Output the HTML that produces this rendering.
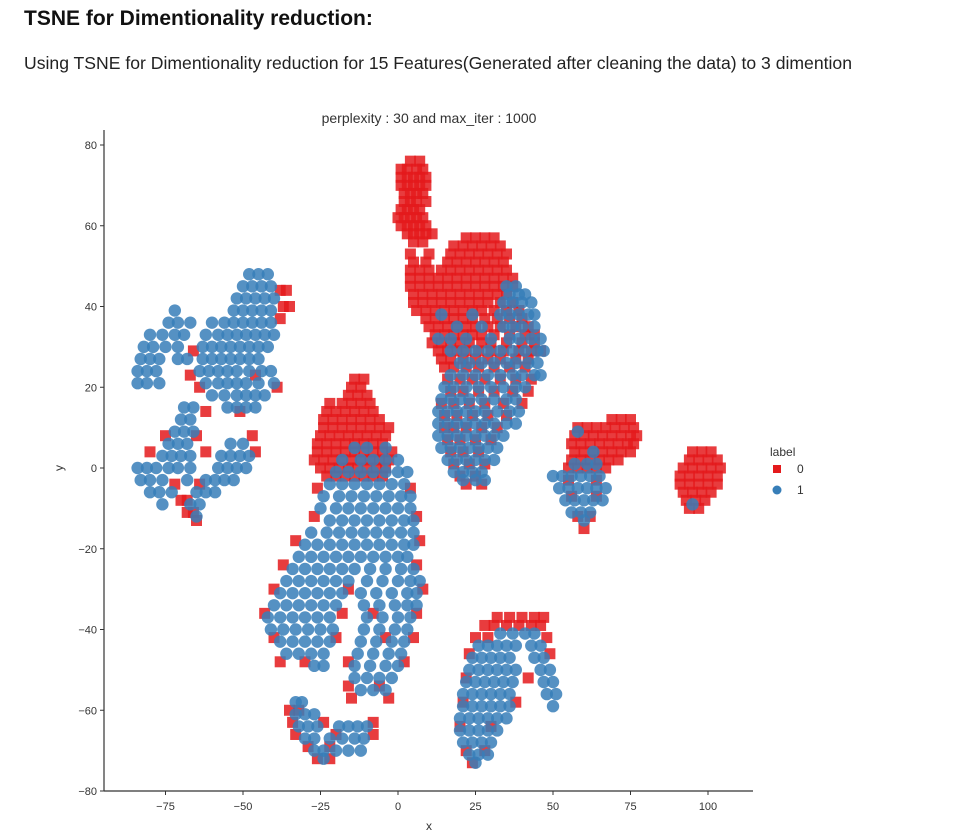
<!DOCTYPE html>
<html><head><meta charset="utf-8"><style>
body{margin:0;background:#fff;width:971px;height:834px;overflow:hidden;font-family:"Liberation Sans",sans-serif}
#h{position:absolute;left:24px;top:7px;font-size:21px;font-weight:bold;color:#111}
#s{position:absolute;left:24px;top:53px;font-size:17.6px;color:#222;white-space:nowrap}
svg{position:absolute;left:0;top:0}
</style></head><body>
<div id="h">TSNE for Dimentionality reduction:</div>
<div id="s">Using TSNE for Dimentionality reduction for 15 Features(Generated after cleaning the data) to 3 dimention</div>
<svg id="c" width="971" height="834"></svg>
<script>
const xTicks=[-75,-50,-25,0,25,50,75,100];
const yTicks=[80,60,40,20,0,-20,-40,-60,-80];
// rows: [y, x1, x2, ...]
const red0=[
[76,4,7],[74,1,3,6,8],[72,1,3,5,7,9],[70,1,3,5,7,9],[68,2,4,6,8],[66,2,4,6,9],[64,1,3,5,7],[62,0,2,4,6,8],[60,1,3,5,7,9],[58,3,5,7,9,11],[56,5,8],[53,4,10],
[57,22,25,28,31],[55,18,21,24,27,30,33],[53,17,20,23,26,29,32,35],[51,5,9,16,19,22,25,28,31,34],[49,4,7,10,14,17,20,23,26,29,32,35],[47,4,7,10,13,16,19,22,25,28,31,34,37],[45,4,7,10,13,16,19,22,25,28,31,34,37],[43,5,8,11,14,17,20,23,26,29,32,35],[41,5,8,11,14,17,20,23,26,29,33,37],[39,6,9,12,15,18,21,24,27,31,35,39],[37,9,12,15,18,21,24,28,32,36,40],[35,10,13,16,19,22,25,29,33,38,42],[33,12,15,18,21,24,27,31,36,41,44],[31,11,14,17,20,23,27,30,35,40,44],[29,13,16,19,22,26,30,34,39,43,46],[27,14,17,21,25,29,33,38,42],[25,15,18,22,26,31,36,41],[22,16,20,24,28,33,38,43],[19,17,21,26,31,37,42],[16,14,18,23,28,34,40],[13,15,19,24,29,35],[10,15,18,22,27,32],[7,16,20,25,30],[4,17,21,26],[1,18,23,28],[-2,20,25],[-4,22,27],
[22,-14,-11],[20,-15,-12],[18,-16,-13,-10],[16,-22,-18,-15,-12,-9],[14,-23,-20,-17,-14,-11,-8],[12,-24,-21,-18,-15,-12,-9,-6],[10,-24,-21,-18,-15,-12,-9,-6,-3],[8,-25,-22,-19,-16,-13,-10,-7,-4],[6,-26,-23,-20,-17,-14,-11,-8,-5],[4,-26,-23,-20,-17,-14,-11,-8,-5,-2],[2,-27,-24,-21,-18,-15,-12,-9,-6,-3],[0,-25,-22,-19,-16,-13,-10,-7,-4],[-2,-23,-20,-17,-14,-11,-8,-5],
[-5,-26,4],[-12,-27,6],[-18,-33,7],[-24,-37,6],[-30,-40,-16,8],[-36,-43,-18,-8,6],[-42,-40,-20,-4,5],[-48,-38,-30,-16,2],[-54,-16,-6],[-57,-15,-3],[-60,-35,-32],[-63,-34,-24,-8],[-66,-33,-20,-8],[-69,-29,-22],[-72,-26,-22],
[44,-38,-36],[40,-37,-35],[37,-38],[29,-66],[23,-46,-67],[20,-64,-39],[14,-62,-51],[8,-75,-65,-47],[4,-80,-62,-46],[-4,-72,-64],[-8,-70,-68],[-11,-68,-66],[-13,-65],
[12,69,72,75],[10,58,61,64,67,70,73,76],[8,57,60,63,66,69,72,75,77],[6,56,59,62,65,68,71,74,76],[4,57,60,63,66,69,72,75],[2,56,59,62,65,68,71],[0,55,58,61,64,67],[-3,55,64],[-7,56,64],[-12,58,62],[-15,60],
[4,95,98,101],[2,94,97,100,103],[0,92,95,98,101,104],[-2,91,94,97,100,103],[-4,91,94,97,100,103],[-6,92,95,98,101],[-8,93,96,99],[-10,94,97],
[-37,32,36,40,44,47],[-39,28,31,35,39,43,46],[-42,25,29,48],[-46,23,49],[-52,22,42],[-58,21,38],[-64,20,30],[-70,22,28],[-73,24]
];
const blue1=[
[45,38,35],[43,36,39,41],[41,34,37,40,43],[38,14,24,33,36,39,42,44],[35,19,27,34,37,40,44],[32,13,17,22,30,36,39,43,46],[29,17,21,25,29,33,37,41,45,47],[26,20,23,27,31,35,38,42,45],[23,17,21,25,29,33,37,40,44,46],[20,15,18,22,26,30,34,38,41],[17,14,17,20,23,27,31,35,38],[14,13,16,19,22,25,28,32,36,39],[11,13,16,19,22,25,28,31,35,38],[8,13,16,19,22,25,28,31,34],[5,14,17,20,23,26,29,32],[2,16,19,22,25,28,31],[-1,18,21,24,27],[-3,21,25,28],
[5,-14,-10,-4],[2,-18,-12,-8,-4,0],[-1,-20,-16,-12,-8,-4,0,3],[-4,-22,-18,-14,-10,-6,-2,2],[-7,-24,-19,-15,-11,-7,-3,1,4],[-10,-25,-20,-16,-12,-8,-4,0,4],[-13,-22,-18,-14,-10,-6,-2,2,5],[-16,-28,-23,-19,-15,-11,-7,-3,1,5],[-19,-30,-26,-22,-18,-14,-10,-6,-2,2,5],[-22,-32,-28,-24,-20,-16,-12,-8,-4,0,3],[-25,-34,-30,-26,-22,-18,-14,-9,-4,1,5],[-28,-36,-32,-28,-24,-20,-16,-10,-5,0,4,7],[-31,-38,-34,-30,-26,-22,-18,-12,-7,-2,3,6],[-34,-40,-36,-32,-28,-24,-20,-11,-6,-1,3,6],[-37,-42,-38,-34,-30,-26,-22,-10,-5,0,4],[-40,-41,-37,-33,-29,-25,-21,-11,-6,-1,3],[-43,-38,-34,-30,-26,-22,-12,-7,-2,2],[-46,-36,-32,-28,-24,-13,-8,-3,1],[-49,-27,-24,-14,-9,-4,0],[-52,-14,-10,-6,-2],[-55,-12,-8,-4],[-58,-33,-31],[-61,-33,-30,-27],[-64,-32,-29,-26,-19,-16,-13,-10],[-67,-30,-27,-22,-18,-14,-11],[-70,-27,-24,-20,-16,-12],[-72,-24],
[48,-48,-45,-42],[45,-50,-47,-44,-41],[42,-52,-49,-46,-43,-40],[39,-53,-50,-47,-44,-41,-72],[36,-60,-56,-53,-50,-47,-44,-41,-74,-71,-67],[33,-62,-58,-55,-52,-49,-46,-43,-40,-80,-76,-72,-69],[30,-63,-60,-57,-54,-51,-48,-45,-42,-82,-79,-75,-71],[27,-63,-60,-57,-54,-51,-48,-45,-83,-80,-77,-71,-68],[24,-64,-61,-58,-55,-52,-48,-44,-41,-84,-81,-78],[21,-62,-58,-55,-52,-49,-45,-40,-84,-81,-77],[18,-60,-56,-52,-49,-46,-43],[15,-69,-66,-55,-52,-49,-46],[12,-70,-67],[9,-72,-69,-66],[6,-74,-71,-68,-54,-50],[3,-76,-73,-70,-67,-57,-54,-51,-48],[0,-84,-81,-78,-74,-71,-67,-58,-55,-52,-49],[-3,-83,-80,-76,-68,-62,-59,-56,-53],[-6,-80,-77,-73,-65,-62,-59],[-9,-76,-67,-64],[-12,-65],
[9,58],[4,63],[1,57,61,64],[-2,50,53,56,59,62,65],[-5,52,55,58,61,64,67],[-8,54,57,60,63,66],[-11,56,59,62],[-13,60],[-9,95],
[-41,33,37,41,44],[-44,26,29,32,35,38,43,46],[-47,24,27,30,33,36,44,47],[-50,23,26,29,32,35,38,46,49],[-53,22,25,28,31,34,37,47,50],[-56,21,24,27,30,33,36,48,51],[-59,21,24,27,30,33,36,50],[-62,20,23,26,29,32,35],[-65,20,23,26,29,32],[-68,21,24,27,30],[-71,23,26,29],[-73,25]
];
const NS='http://www.w3.org/2000/svg';
const svg=document.getElementById('c');
const X0=104,X1=753,Y0=130,Y1=791;
const sx=v=>398+v*3.1, sy=v=>468-v*4.0375;
function mk(t,a){const e=document.createElementNS(NS,t);for(const k in a)e.setAttribute(k,a[k]);svg.appendChild(e);return e;}
let t=mk('text',{x:429,y:123,'font-size':14,'text-anchor':'middle',fill:'#333'});t.textContent='perplexity : 30 and max_iter : 1000';


const gR=mk('g',{fill:'#e41a1c','fill-opacity':0.85});


red0.forEach(r=>{for(let i=1;i<r.length;i++){const e=document.createElementNS(NS,'rect');e.setAttribute('x',sx(r[i])-5.5);e.setAttribute('y',sy(r[0])-5.5);e.setAttribute('width',11);e.setAttribute('height',11);


gR.appendChild(e);}});
const gB=mk('g',{fill:'#377eb8','fill-opacity':0.85});


blue1.forEach(r=>{for(let i=1;i<r.length;i++){const e=document.createElementNS(NS,'circle');e.setAttribute('cx',sx(r[i]));e.setAttribute('cy',sy(r[0]));e.setAttribute('r',6.2);


gB.appendChild(e);}});
let a=mk('line',{x1:X0,y1:Y0,x2:X0,y2:Y1,stroke:'#333','stroke-width':1.2});


a=mk('line',{x1:X0,y1:Y1,x2:X1,y2:Y1,stroke:'#333','stroke-width':1.2});


xTicks.forEach(v=>{mk('line',{x1:sx(v),x2:sx(v),y1:Y1,y2:Y1+4,stroke:'#333'});const l=mk('text',{x:sx(v),y:Y1+19,'font-size':11,'text-anchor':'middle',fill:'#333'});l.textContent=v<0?'\u2212'+(-v):v;

});
yTicks.forEach(v=>{mk('line',{x1:X0-4,x2:X0,y1:sy(v),y2:sy(v),stroke:'#333'});const l=mk('text',{x:X0-7,y:sy(v)+4,'font-size':11,'text-anchor':'end',fill:'#333'});l.textContent=v<0?'\u2212'+(-v):v;

});
t=mk('text',{x:429,y:830,'font-size':12,'text-anchor':'middle',fill:'#333'});t.textContent='x';


t=mk('text',{x:63,y:468,'font-size':12,'text-anchor':'middle',fill:'#333',transform:'rotate(-90 63 468)'});t.textContent='y';


t=mk('text',{x:770,y:456,'font-size':12,fill:'#333'});t.textContent='label';


let m=mk('rect',{x:773,y:465,width:8,height:8,fill:'#e41a1c'});


t=mk('text',{x:797,y:473,'font-size':12,fill:'#333'});t.textContent='0';


m=mk('circle',{cx:777,cy:490,r:4.5,fill:'#377eb8'});


t=mk('text',{x:797,y:494,'font-size':12,fill:'#333'});t.textContent='1';


</script>
</body></html>
